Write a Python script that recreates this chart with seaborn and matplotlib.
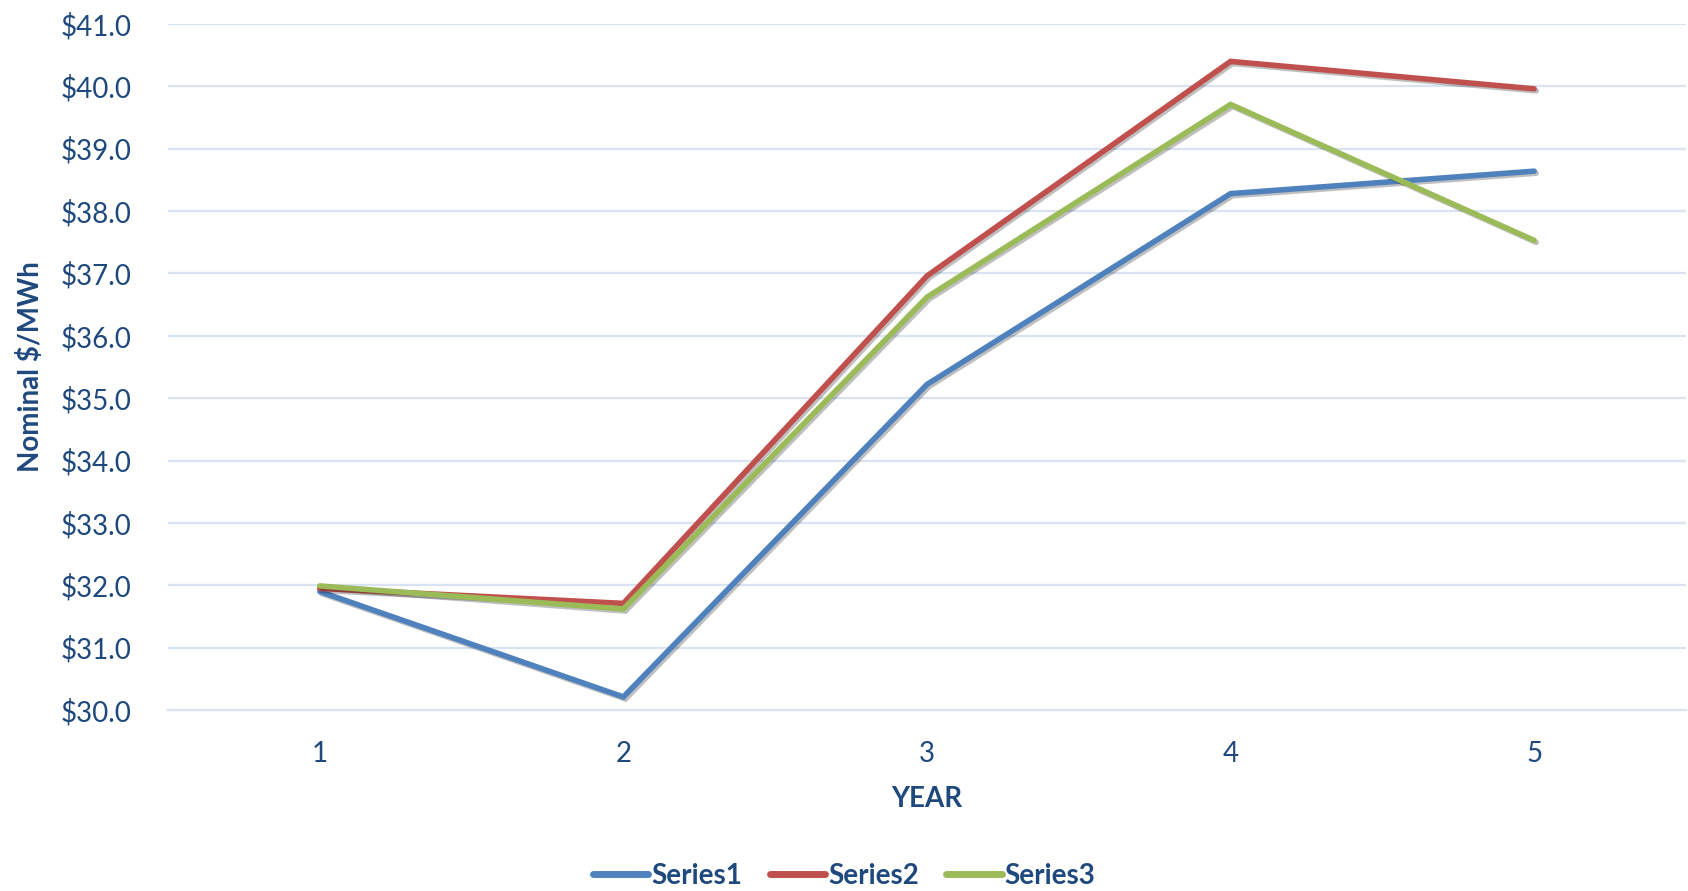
import pandas as pd
import matplotlib.pyplot as plt
import matplotlib.patheffects as pe
from matplotlib.ticker import FixedLocator, FuncFormatter
import seaborn as sns

# valores
years = [1, 2, 3, 4, 5]
series1 = [31.90, 30.21, 35.22, 38.28, 38.64]
series2 = [31.95, 31.71, 36.96, 40.40, 39.96]
series3 = [31.99, 31.62, 36.62, 39.71, 37.53]
names = ['Series1', 'Series2', 'Series3']
colores = ['#4F81BD', '#C0504D', '#9BBB59']

df = pd.DataFrame({
    'year': years * 3,
    'price': series1 + series2 + series3,
    'serie': [n for n in names for _ in years],
})

sns.set_style('white')
plt.rcParams['font.family'] = ['Lato', 'DejaVu Sans']
txt = '#1F497D'
grid = '#D9E3F1'

fig = plt.figure(figsize=(16.88, 8.91), dpi=100)
ax = fig.add_axes([0.0995, 0.2031, 0.8993, 0.7700])

sns.lineplot(
    data=df, x='year', y='price', hue='serie',
    palette=colores, linewidth=4.0, ax=ax,
    solid_capstyle='round', solid_joinstyle='miter',
)
for ln in ax.get_lines():
    ln.set_path_effects([
        pe.SimpleLineShadow(offset=(1.5, -1.5), shadow_color='k', alpha=0.25),
        pe.Normal(),
    ])

ax.set_xlim(0.5, 5.5)
ax.set_ylim(30, 41)
ax.set_yticks(range(30, 42))
ax.yaxis.set_major_formatter(FuncFormatter(lambda v, p: f'${v:.1f}'))
ax.set_xticks(years)
ax.xaxis.set_minor_locator(FixedLocator([0.5, 1.5, 2.5, 3.5, 4.5, 5.5]))
ax.grid(axis='y', color=grid, linewidth=1.6)
ax.set_axisbelow(True)

for s in ['top', 'right', 'left']:
    ax.spines[s].set_visible(False)
ax.spines['bottom'].set_color(grid)
ax.spines['bottom'].set_linewidth(1.6)

ax.tick_params(axis='y', length=0, pad=26, labelsize=20, labelcolor=txt)
ax.tick_params(axis='x', which='major', length=0, pad=22, labelsize=20, labelcolor=txt)
ax.tick_params(axis='x', which='minor', length=10, width=1.4, color=grid)

ax.set_xlabel('YEAR', fontsize=20, fontweight='bold', color=txt, labelpad=14)
ax.set_ylabel('Nominal $/MWh', fontsize=20, fontweight='bold', color=txt, labelpad=12)

handles, labels = ax.get_legend_handles_labels()
ax.get_legend().remove()
leg = fig.legend(
    handles, labels, loc='lower center', bbox_to_anchor=(0.5, -0.026),
    ncol=3, frameon=False, handlelength=2.0, handletextpad=0.1,
    columnspacing=1.0, prop={'size': 20, 'weight': 'bold'},
)
for h in leg.get_lines():
    h.set_path_effects([])
    h.set_linewidth(5)
    h.set_solid_capstyle('round')
for t in leg.get_texts():
    t.set_color(txt)

fig.savefig('out.png', dpi=100)
